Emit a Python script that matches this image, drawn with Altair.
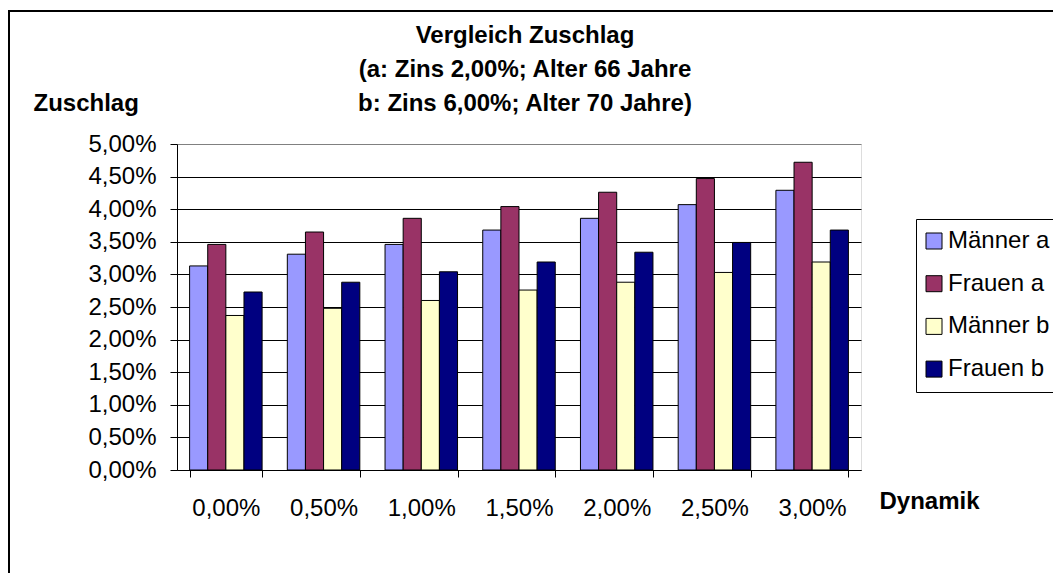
import altair as alt
import pandas as pd

categories = ["0,00%", "0,50%", "1,00%", "1,50%", "2,00%", "2,50%", "3,00%"]
series_names = ["Männer a", "Frauen a", "Männer b", "Frauen b"]
maenner_a = [3.13, 3.31, 3.46, 3.68, 3.86, 4.07, 4.29]
frauen_a = [3.46, 3.65, 3.86, 4.04, 4.26, 4.47, 4.72]
maenner_b = [2.37, 2.48, 2.60, 2.76, 2.88, 3.03, 3.19]
frauen_b = [2.73, 2.88, 3.04, 3.19, 3.34, 3.49, 3.68]
series_colors = ["#9999FF", "#993366", "#FFFFCC", "#000080"]
y_ticks = [0, 0.5, 1, 1.5, 2, 2.5, 3, 3.5, 4, 4.5, 5]
title_lines = ["Vergleich Zuschlag", "(a: Zins 2,00%; Alter 66 Jahre",
               "\u00a0\u00a0b: Zins 6,00%; Alter 70 Jahre)"]

rows = []
for name, vals in zip(series_names, [maenner_a, frauen_a, maenner_b, frauen_b]):
    for c, v in zip(categories, vals):
        rows.append({"Dynamik": c, "Serie": name, "Wert": v})
df = pd.DataFrame(rows)

FONT = "Liberation Sans"

bars = alt.Chart(df).mark_bar(stroke="black", strokeWidth=1, opacity=1).encode(
    x=alt.X(
        "Dynamik:N",
        sort=categories,
        scale=alt.Scale(paddingInner=0.258, paddingOuter=0.129),
        axis=alt.Axis(
            title="Dynamik",
            titleX=702, titleY=38, titleAlign="left", titleBaseline="alphabetic",
            titleFont=FONT, titleFontSize=24, titleFontWeight="bold", titleColor="black",
            labelAngle=0, labelFont=FONT, labelFontSize=24, labelColor="black",
            labelPadding=19, tickBand="extent", tickSize=7, tickColor="black",
            domainColor="black", grid=False,
        ),
    ),
    xOffset=alt.XOffset("Serie:N", sort=series_names,
                        scale=alt.Scale(paddingInner=0, paddingOuter=0)),
    y=alt.Y(
        "Wert:Q",
        scale=alt.Scale(domain=[0, 5], nice=False),
        axis=alt.Axis(
            title="Zuschlag",
            titleAngle=0, titleX=-144, titleY=-34, titleAlign="left",
            titleBaseline="alphabetic", titleFont=FONT, titleFontSize=24,
            titleFontWeight="bold", titleColor="black",
            values=y_ticks,
            labelExpr="replace(format(datum.value, '.2f'), '.', ',') + '%'",
            labelFont=FONT, labelFontSize=24, labelColor="black", labelPadding=14,
            tickSize=7, tickColor="black", domainColor="black",
            grid=True,
            gridColor={"condition": {"test": "datum.value >= 5", "value": "#808080"},
                       "value": "black"},
        ),
    ),
    color=alt.Color(
        "Serie:N",
        sort=series_names,
        scale=alt.Scale(domain=series_names, range=series_colors),
        legend=alt.Legend(
            title=None, orient="none", legendX=739, legendY=75,
            fillColor="white", strokeColor="black", padding=10,
            symbolType="square", symbolSize=256, symbolStrokeColor="black",
            symbolStrokeWidth=1, symbolOpacity=1, symbolOffset=-4,
            labelFont=FONT, labelFontSize=24, labelColor="black",
            labelOffset=2, rowPadding=18.7,
        ),
    ),
)

frame_df = pd.DataFrame({"k": [0]})
left_border = alt.Chart(frame_df).mark_rule(color="black", strokeWidth=2).encode(
    x=alt.value(-168), y=alt.value(-133), y2=alt.value(440)
)
top_border = alt.Chart(frame_df).mark_rule(color="black", strokeWidth=2).encode(
    x=alt.value(-169), x2=alt.value(900), y=alt.value(-133)
)

chart = alt.layer(bars, left_border, top_border).properties(
    width=684,
    height=326,
    autosize=alt.AutoSizeParams(type="none"),
    padding={"left": 169, "top": 136, "right": 192, "bottom": 103},
    title=alt.Title(
        title_lines,
        font=FONT, fontSize=24, fontWeight="bold", color="black",
        anchor="middle", frame="group", lineHeight=34, dx=6, dy=110,
    ),
).configure_view(
    stroke="#808080", strokeWidth=1
).configure(background="white")

chart.save("out.html", embed_options={"renderer": "svg", "actions": False})
